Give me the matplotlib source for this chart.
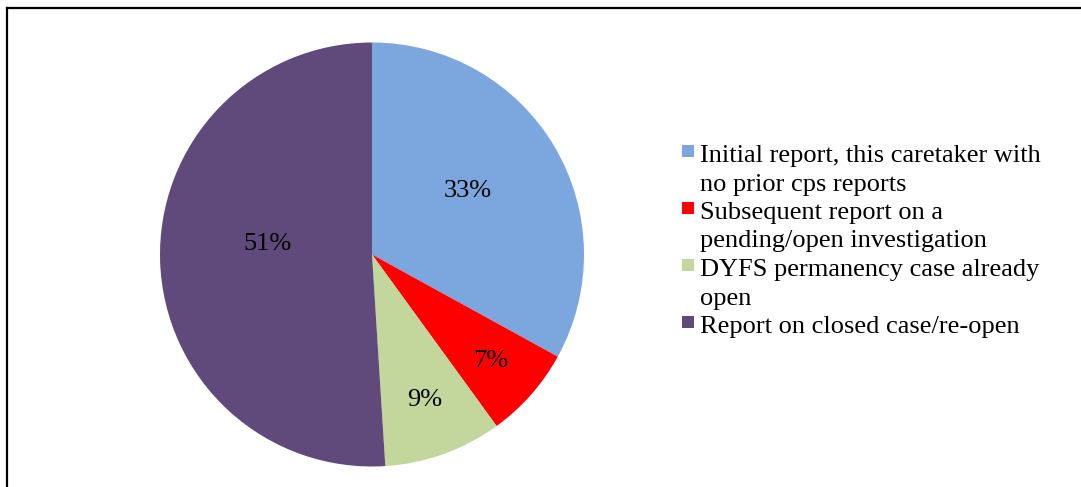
import numpy as np
import matplotlib.pyplot as plt
from matplotlib.patches import Rectangle
from matplotlib.lines import Line2D

# report type breakdown (percent of reports)
categories = [
    "Initial report, this caretaker with\nno prior cps reports",
    "Subsequent report on a\npending/open investigation",
    "DYFS permanency case already\nopen",
    "Report on closed case/re-open",
]
shares = [33, 7, 9, 51]
colors = ["#7BA7DE", "#FF0000", "#C3D69B", "#604A7B"]

# where each percentage label sits: radius fraction and angle nudge (deg)
label_dist = [0.54, 0.75, 0.73, 0.495]
label_turn = [3.0, -0.5, 0.0, -7.5]

plt.rcParams['font.family'] = ['Liberation Serif', 'DejaVu Serif']

W, H = 1081, 487
fig = plt.figure(figsize=(W / 100, H / 100), dpi=100)

# pie axes: centre (372, 254) px, radius 212 px
cx, cy, r = 372, 254.5, 212
ax = fig.add_axes([(cx - r) / W, (H - cy - r) / H, 2 * r / W, 2 * r / H])
wedges, _ = ax.pie(shares, colors=colors, startangle=90, counterclock=False,
                   radius=1.0, wedgeprops=dict(linewidth=0))
ax.set_xlim(-1, 1)
ax.set_ylim(-1, 1)
ax.set_aspect('auto')
ax.axis('off')

for w, v, d, t in zip(wedges, shares, label_dist, label_turn):
    ang = np.deg2rad((w.theta1 + w.theta2) / 2 + t)
    ax.text(d * np.cos(ang), d * np.sin(ang), f"{v}%", ha='center', va='center',
            fontsize=19)

# legend drawn by hand so the marker sits on the first line of each entry
line_h = 28.5
y_base = 162
for lab, col in zip(categories, colors):
    fig.patches.append(Rectangle((682 / W, 1 - (y_base - 5) / H), 12 / W, 12 / H,
                                 transform=fig.transFigure, facecolor=col,
                                 edgecolor='none'))
    for line in lab.split("\n"):
        fig.text(700 / W, 1 - y_base / H, line, fontsize=19, va='baseline',
                 ha='left')
        y_base += line_h

# frame (top and left edges)
fig.add_artist(Line2D([7.5 / W, 1], [1 - 8 / H, 1 - 8 / H], color='black', lw=1.6,
                      transform=fig.transFigure))
fig.add_artist(Line2D([7.5 / W, 7.5 / W], [0, 1 - 8 / H], color='black', lw=1.6,
                      transform=fig.transFigure))

fig.savefig("out.png", dpi=100)
